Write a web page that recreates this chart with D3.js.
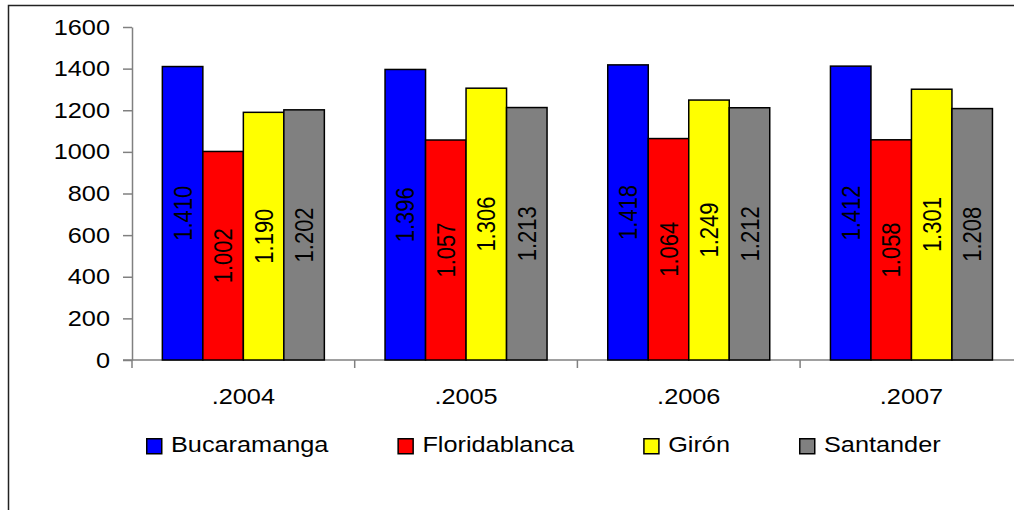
<!DOCTYPE html>
<html>
	<head>
		<meta charset="utf-8">
		<title></title>
		<style type="text/css">
			body { margin: 0; background: #fff; }
			text { font-family: "Liberation Sans", Arial, sans-serif; font-size: 22px; fill: #000; }
		</style>
		<script src="https://cdn.jsdelivr.net/npm/d3@7/dist/d3.min.js"></script>
	</head>
	<body>
		<svg height='510' width='1014'></svg>

		<script>
			var years = [".2004", ".2005", ".2006", ".2007"];
			var series = ["Bucaramanga", "Floridablanca", "Girón", "Santander"];
			var colors = ["#0000ff", "#ff0000", "#ffff00", "#808080"];
			var bucaramanga = [1410, 1396, 1418, 1412];
			var floridablanca = [1002, 1057, 1064, 1058];
			var giron = [1190, 1306, 1249, 1301];
			var santander = [1202, 1213, 1212, 1208];
			var yTicks = [0, 200, 400, 600, 800, 1000, 1200, 1400, 1600];

			var values = [bucaramanga, floridablanca, giron, santander];
			var stretch = 1.15; // text in the picture is a bit wider than normal

			var svg = d3.select("svg");

			// chart frame (only top and left edges show)
			svg.append("path")
				.attr("d", "M8.5,510V5.5H1014")
				.attr("fill", "none")
				.attr("stroke", "#222")
				.attr("stroke-width", 1.5);

			var x0 = d3.scaleBand().domain(years).range([132, 132 + 4 * 222.7]);
			var bw = x0.bandwidth();
			var x1 = d3.scaleBand().domain(series).range([(bw - 162) / 2, (bw + 162) / 2]);
			var y = d3.scaleLinear().domain([0, 1600]).range([360, 27]);

			var fmt = d3.formatLocale({decimal: ",", thousands: ".", grouping: [3], currency: ["", ""]}).format(",");

			// y axis
			var yAxis = svg.append("g")
				.attr("transform", "translate(132,0)")
				.call(d3.axisLeft(y).tickValues(yTicks).tickSize(9).tickSizeOuter(0).tickFormat(""));
			yAxis.selectAll("path,line").attr("stroke", "#808080").attr("stroke-width", 1.5);

			svg.append("g").selectAll("text")
				.data(yTicks)
				.enter()
				.append("text")
				.attr("transform", function(d){ return "translate(110," + (y(d) + 7.5) + ") scale(" + stretch + ",1)"; })
				.style("text-anchor", "end")
				.text(function(d){ return d; });

			// x axis
			svg.append("line")
				.attr("x1", 123).attr("x2", 1014)
				.attr("y1", y(0)).attr("y2", y(0))
				.attr("stroke", "#808080").attr("stroke-width", 1.5);

			var bounds = years.map(function(d){ return x0(d); }).concat([x0(years[3]) + bw]);
			svg.append("g").selectAll("line")
				.data(bounds)
				.enter()
				.append("line")
				.attr("x1", function(d){ return d; }).attr("x2", function(d){ return d; })
				.attr("y1", y(0)).attr("y2", y(0) + 8)
				.attr("stroke", "#808080").attr("stroke-width", 1.5);

			svg.append("g").selectAll("text")
				.data(years)
				.enter()
				.append("text")
				.attr("transform", function(d){ return "translate(" + (x0(d) + bw / 2) + ",404) scale(" + stretch + ",1)"; })
				.style("text-anchor", "middle")
				.text(function(d){ return d; });

			// bars
			var groups = svg.append("g").selectAll("g")
				.data(years)
				.enter()
				.append("g")
				.attr("transform", function(d){ return "translate(" + x0(d) + ",0)"; });

			var cells = groups.selectAll("g")
				.data(function(d, i){
					return series.map(function(s, j){ return {name: s, value: values[j][i], color: colors[j]}; });
				})
				.enter()
				.append("g");

			cells.append("rect")
				.attr("x", function(d){ return x1(d.name); })
				.attr("y", function(d){ return y(d.value); })
				.attr("width", x1.bandwidth())
				.attr("height", function(d){ return y(0) - y(d.value); })
				.attr("fill", function(d){ return d.color; })
				.attr("stroke", "#000")
				.attr("stroke-width", 1.5);

			cells.append("text")
				.attr("transform", function(d){
					var cx = x1(d.name) + x1.bandwidth() / 2;
					var cy = (y(d.value) + y(0)) / 2;
					return "translate(" + cx + "," + cy + ") scale(" + stretch + ",1) rotate(-90)";
				})
				.attr("dy", "0.36em")
				.style("text-anchor", "middle")
				.text(function(d){ return fmt(d.value); });

			// legend
			var lx = 146;
			series.forEach(function(s, i){
				var item = svg.append("g");
				item.append("rect")
					.attr("x", lx + 0.75).attr("y", 438.75)
					.attr("width", 15).attr("height", 15)
					.attr("fill", colors[i])
					.attr("stroke", "#000")
					.attr("stroke-width", 1.5);
				var t = item.append("text")
					.attr("transform", "translate(" + (lx + 25) + ",452) scale(" + stretch + ",1)")
					.text(s);
				lx = lx + 25 + t.node().getComputedTextLength() * stretch + 69;
			});
		</script>
	</body>
</html>
